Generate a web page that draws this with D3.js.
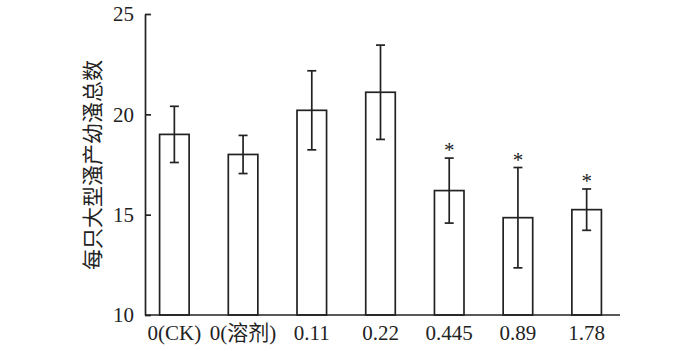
<!DOCTYPE html>
<html lang="zh">
<head>
    <meta charset="UTF-8">
    <title>D3 - Bar</title>
    <script src="https://d3js.org/d3.v7.min.js"></script>
    <style>
        body{ margin: 0; background: white; }
        text{ fill: #222; }
        .tick text{ font-family: "Liberation Serif", "DejaVu Serif", serif; font-size: 21px; }
    </style>
</head>
<body>
<svg id="chart" width="700" height="351"></svg>
<script>
    let categories = ["0(CK)", "0(溶剂)", "0.11", "0.22", "0.445", "0.89", "1.78"];
    let means = [19.0, 18.0, 20.2, 21.1, 16.2, 14.85, 15.25];
    let errors = [1.4, 0.95, 1.97, 2.35, 1.62, 2.5, 1.03];
    let significant = [false, false, false, false, true, true, true];
    let yTicks = [10, 15, 20, 25];

    let svg = d3.select('svg');
    let x0 = 145, x1 = 620, plotTop = 14, plotBottom = 315;

    let x = d3.scaleBand()
        .domain(categories)
        .range([140, 621])
        .paddingInner(0.57)
        .paddingOuter(0.285);
    let y = d3.scaleLinear().domain([10, 25]).range([plotBottom, plotTop]);

    let data = categories.map(function (c, i){
        return {cat: c, mean: means[i], err: errors[i], sig: significant[i]};
    });

    // bars
    svg.append('g').selectAll('rect')
        .data(data)
        .enter()
        .append('rect')
        .attr('x', d => x(d.cat))
        .attr('y', d => y(d.mean))
        .attr('width', x.bandwidth())
        .attr('height', d => y(10) - y(d.mean))
        .attr('fill', 'white')
        .attr('stroke', '#222')
        .attr('stroke-width', 1.7);

    // error bars
    let eb = svg.append('g').attr('stroke', '#222').attr('stroke-width', 1.7);
    data.forEach(function (d){
        let cx = x(d.cat) + x.bandwidth() / 2;
        eb.append('line').attr('x1', cx).attr('x2', cx)
            .attr('y1', y(d.mean + d.err)).attr('y2', y(d.mean - d.err));
        eb.append('line').attr('x1', cx - 4.5).attr('x2', cx + 4.5)
            .attr('y1', y(d.mean + d.err)).attr('y2', y(d.mean + d.err));
        eb.append('line').attr('x1', cx - 4.5).attr('x2', cx + 4.5)
            .attr('y1', y(d.mean - d.err)).attr('y2', y(d.mean - d.err));
        if (d.sig){
            svg.append('text')
                .attr('x', cx)
                .attr('y', y(d.mean + d.err) - 1)
                .attr('text-anchor', 'middle')
                .style('font-family', '"Liberation Serif", serif')
                .style('font-size', '21px')
                .text('*');
        }
    });

    // y axis
    let yAxis = d3.axisLeft(y).tickValues(yTicks).tickSizeInner(-6).tickSizeOuter(0).tickPadding(11);
    let gy = svg.append('g').attr('transform', 'translate(' + x0 + ',0)').call(yAxis);
    gy.select('.domain').attr('stroke', '#222').attr('stroke-width', 1.7);
    gy.selectAll('.tick line').attr('stroke', '#222').attr('stroke-width', 1.7);

    // x axis
    let xAxis = d3.axisBottom(x).tickSize(0).tickPadding(10);
    let gx = svg.append('g').attr('transform', 'translate(0,' + plotBottom + ')').call(xAxis);
    gx.select('.domain').remove();
    svg.append('line').attr('x1', x0).attr('x2', x1).attr('y1', plotBottom).attr('y2', plotBottom)
        .attr('stroke', '#222').attr('stroke-width', 1.7);
    gx.selectAll('.tick text').style('font-family', function (d){
        return /[\u4e00-\u9fff]/.test(d) ? '"Liberation Serif", "Noto Sans CJK SC", serif' : null;
    });

    // y label
    svg.append('text')
        .attr('transform', 'translate(100,165) rotate(-90)')
        .attr('text-anchor', 'middle')
        .style('font-family', '"Noto Sans CJK SC", sans-serif')
        .style('font-size', '21px')
        .text('每只大型溞产幼溞总数');
</script>
</body>
</html>
